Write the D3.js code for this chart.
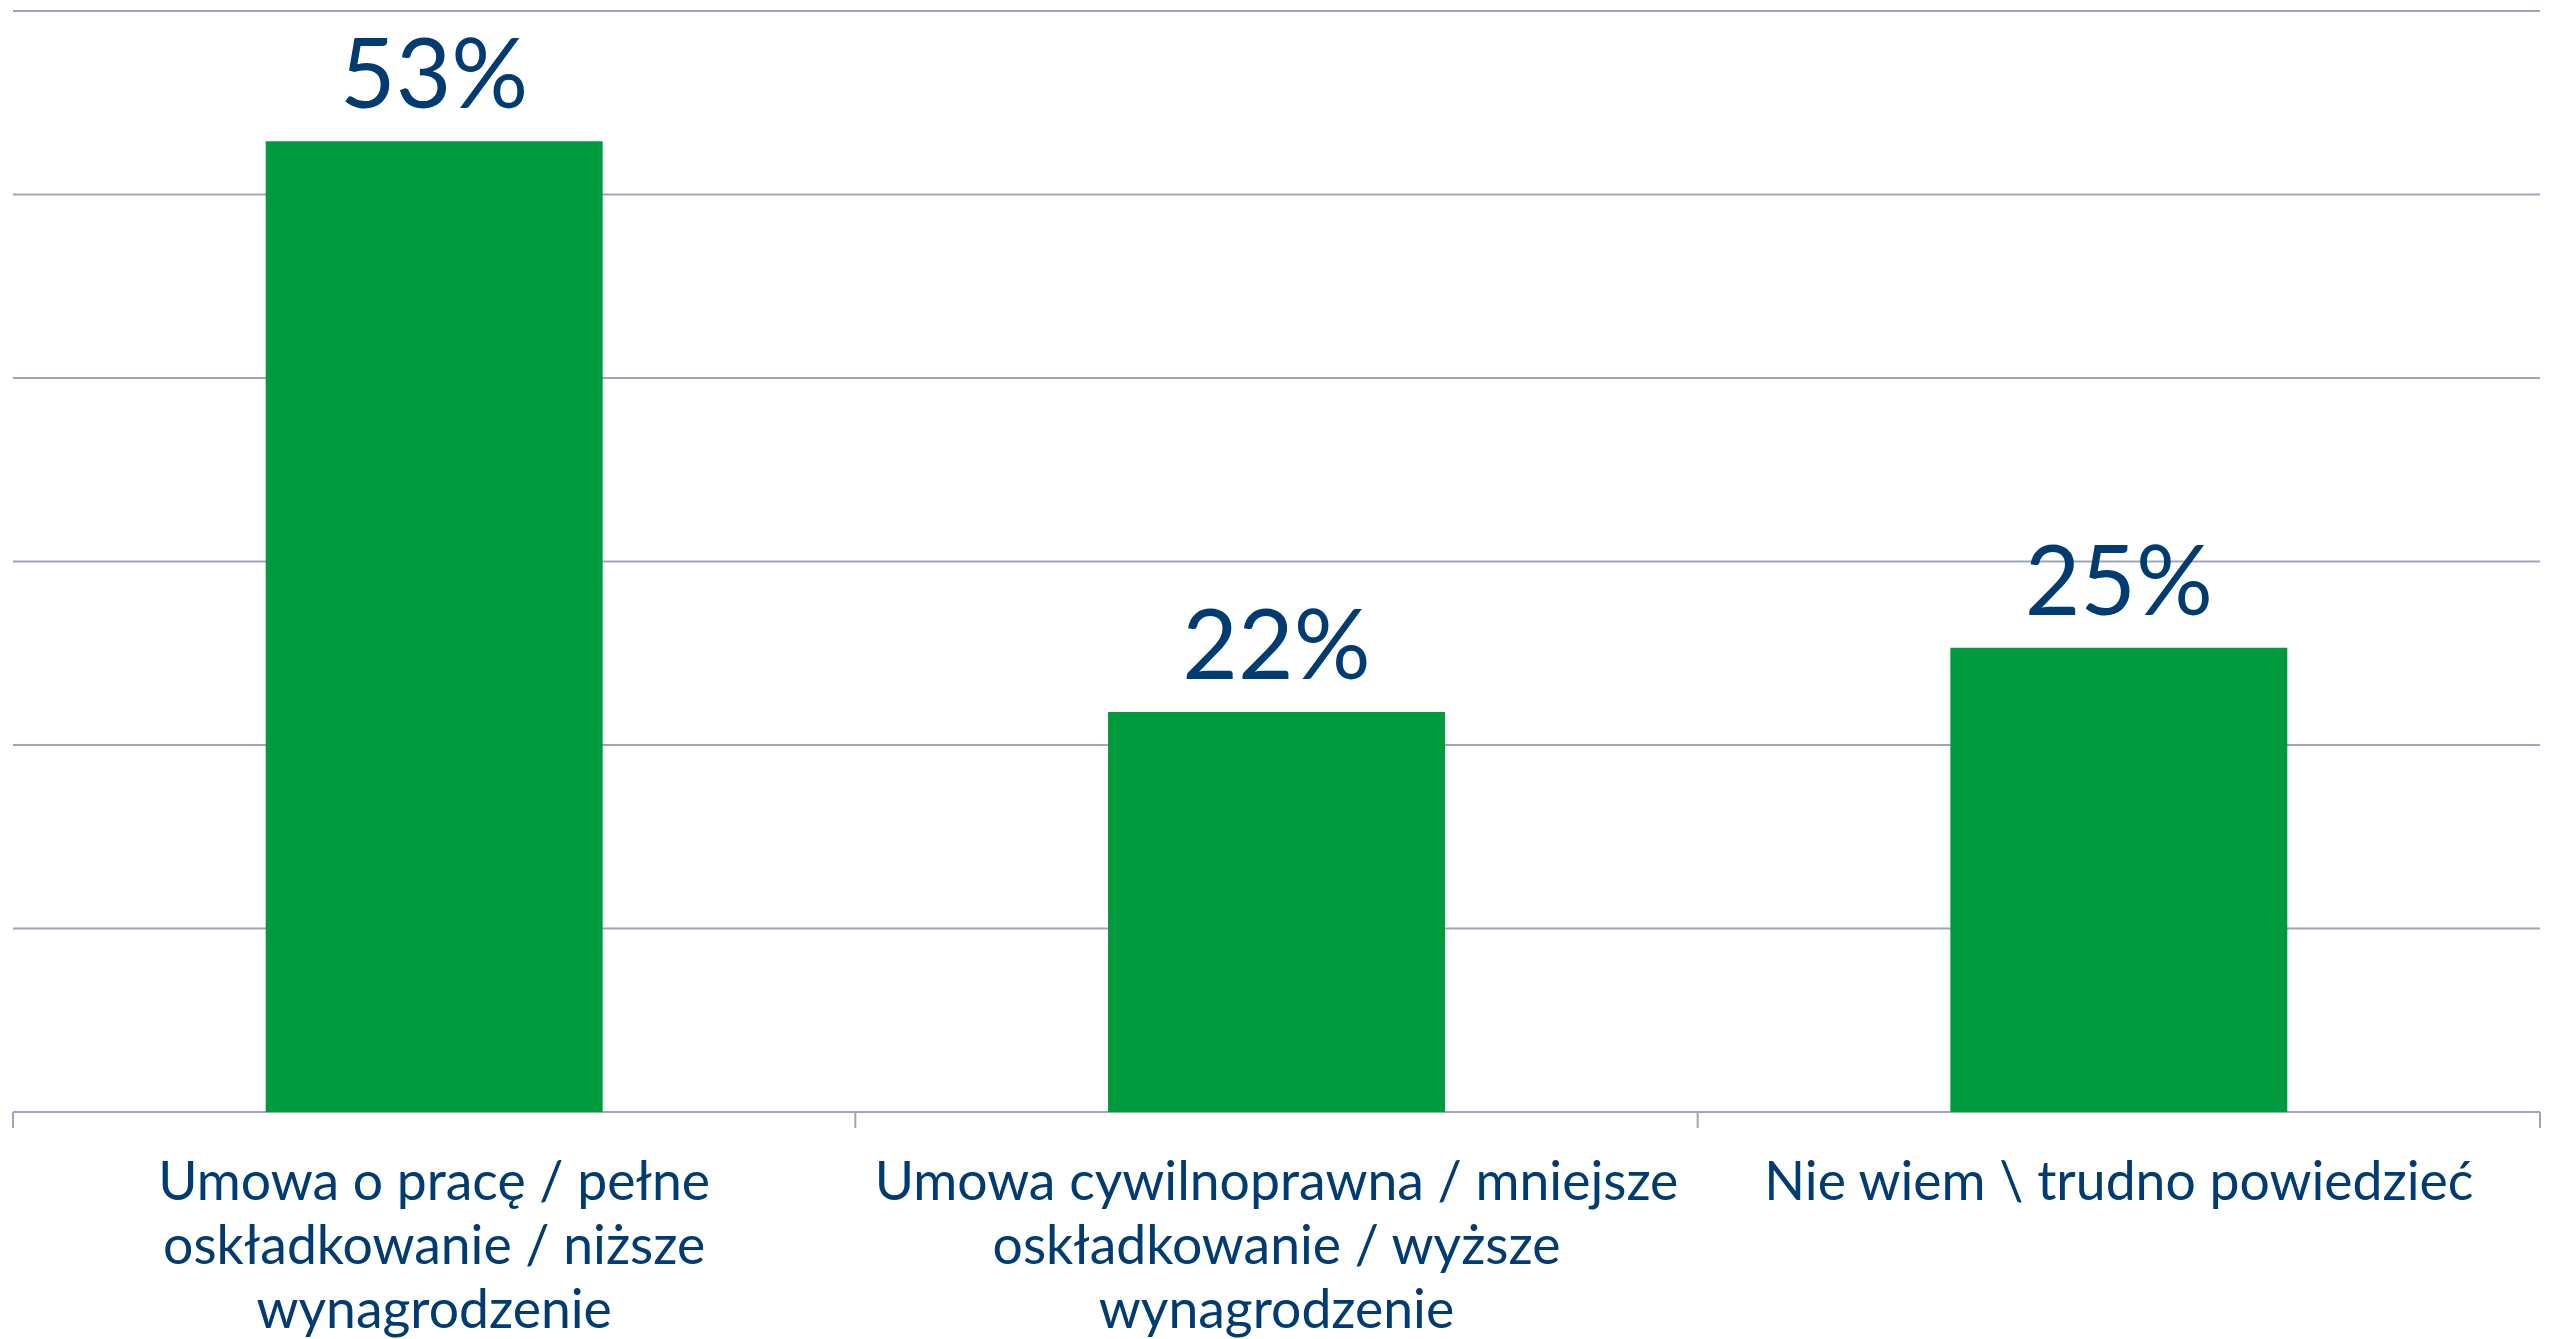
<!DOCTYPE html>
<html>
<head>
<meta charset="utf-8">
<script src="https://cdn.jsdelivr.net/npm/d3@7"></script>
<style>
  html, body { margin: 0; padding: 0; background: #fff; }
  text { font-family: Lato, "Open Sans", sans-serif; fill: #003b71; }
</style>
</head>
<body>
<div id="chart"></div>
<script>
const categories = [
    "Umowa o pracę / pełne oskładkowanie / niższe wynagrodzenie",
    "Umowa cywilnoprawna / mniejsze oskładkowanie / wyższe wynagrodzenie",
    "Nie wiem \\ trudno powiedzieć"
];
const values = [52.9, 21.8, 25.3];
const yTicks = [0, 10, 20, 30, 40, 50, 60];

function makeChart() {
    const width = 2553,
        height = 1339,
        margin = { top: 11, right: 13, bottom: 227, left: 13 };

    const gridColor = '#a0a4b8',
        barColor = '#009a3f';

    let svg = d3.select('#chart').append('svg')
        .attr('width', width)
        .attr('height', height);

    let x = d3.scaleBand()
        .domain(categories)
        .range([margin.left, width - margin.right])
        .paddingInner(0.6)
        .paddingOuter(0.3);

    let y = d3.scaleLinear()
        .domain([0, 60])
        .range([height - margin.bottom, margin.top]);

    // horizontal gridlines
    svg.append('g')
        .selectAll('line')
        .data(yTicks)
        .enter().append('line')
        .attr('x1', margin.left)
        .attr('x2', width - margin.right)
        .attr('y1', d => y(d))
        .attr('y2', d => y(d))
        .attr('stroke', gridColor)
        .attr('stroke-width', 2);

    // category boundary ticks
    const step = x.step();
    const bounds = d3.range(categories.length + 1).map(i => margin.left + i * step);
    svg.append('g')
        .selectAll('line')
        .data(bounds)
        .enter().append('line')
        .attr('x1', d => d)
        .attr('x2', d => d)
        .attr('y1', y(0))
        .attr('y2', y(0) + 16)
        .attr('stroke', gridColor)
        .attr('stroke-width', 2);

    // bars
    svg.append('g')
        .selectAll('rect')
        .data(values)
        .enter().append('rect')
        .attr('x', (d, i) => x(categories[i]))
        .attr('y', d => y(d))
        .attr('width', x.bandwidth())
        .attr('height', d => y(0) - y(d))
        .attr('fill', barColor);

    // value labels
    svg.append('g')
        .selectAll('text')
        .data(values)
        .enter().append('text')
        .attr('x', (d, i) => x(categories[i]) + x.bandwidth() / 2)
        .attr('y', d => y(d) - 33)
        .attr('text-anchor', 'middle')
        .style('font-size', '96px')
        .text(d => Math.round(d) + '%');

    // category labels, wrapped
    let labels = svg.append('g')
        .selectAll('text')
        .data(categories)
        .enter().append('text')
        .attr('x', d => x(d) + x.bandwidth() / 2)
        .attr('y', y(0) + 88)
        .attr('text-anchor', 'middle')
        .style('font-size', '53.5px');

    labels.each(function(d) {
        wrap(d3.select(this), d, step - 20);
    });

    function wrap(text, str, maxWidth) {
        const words = str.split(' ');
        const cx = text.attr('x');
        let line = [];
        let tspan = text.append('tspan').attr('x', cx).attr('dy', 0);
        words.forEach(w => {
            line.push(w);
            tspan.text(line.join(' '));
            if (tspan.node().getComputedTextLength() > maxWidth && line.length > 1) {
                line.pop();
                tspan.text(line.join(' '));
                line = [w];
                tspan = text.append('tspan').attr('x', cx).attr('dy', 64).text(w);
            }
        });
    }
}

makeChart();
</script>
</body>
</html>
